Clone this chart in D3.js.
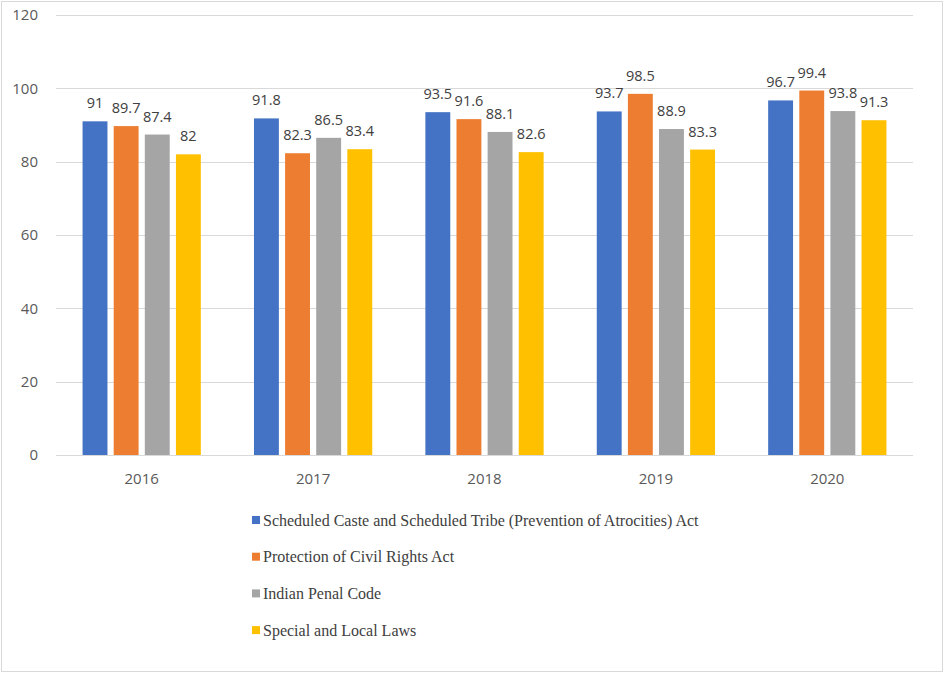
<!DOCTYPE html>
<html>
<head>
<meta charset="utf-8">
<script src="https://cdn.jsdelivr.net/npm/d3@7"></script>
<style>
  body { margin: 0; background: #fff; }
  svg { display: block; }
</style>
</head>
<body>
<svg id="chart"></svg>
<script>
// data
var years = ["2016", "2017", "2018", "2019", "2020"];
var seriesNames = [
  "Scheduled Caste and Scheduled Tribe (Prevention of Atrocities) Act",
  "Protection of Civil Rights Act",
  "Indian Penal Code",
  "Special and Local Laws"
];
var scstValues = [91, 91.8, 93.5, 93.7, 96.7];
var pcrValues = [89.7, 82.3, 91.6, 98.5, 99.4];
var ipcValues = [87.4, 86.5, 88.1, 88.9, 93.8];
var sllValues = [82, 83.4, 82.6, 83.3, 91.3];
var yTicks = [0, 20, 40, 60, 80, 100, 120];
var colors = ["#4472C4", "#ED7D31", "#A5A5A5", "#FFC000"];

var allValues = [scstValues, pcrValues, ipcValues, sllValues];

var W = 944, H = 674;
var margin = {top: 15, right: 31, bottom: 219, left: 56};
var width = W - margin.left - margin.right;
var height = H - margin.top - margin.bottom;

var svg = d3.select("#chart").attr("width", W).attr("height", H);

// outer border
svg.append("rect")
    .attr("x", 1.5).attr("y", 1.5)
    .attr("width", W - 3).attr("height", H - 4)
    .attr("fill", "#fff")
    .attr("stroke", "#d9d9d9")
    .attr("stroke-width", 1);

var g = svg.append("g")
    .attr("transform", "translate(" + margin.left + "," + margin.top + ")");

var x0 = d3.scaleBand().domain(years).range([0, width])
    .paddingInner(0.31).paddingOuter(0.155);
var x1 = d3.scaleBand().domain(d3.range(seriesNames.length))
    .range([0, x0.bandwidth()]).paddingInner(0.2);
var y = d3.scaleLinear().domain([0, 120]).range([height, 0]);

// gridlines
g.selectAll(".grid").data(yTicks).enter().append("line")
    .attr("x1", 0).attr("x2", width)
    .attr("y1", function(d) { return Math.round(y(d)) + 0.5; })
    .attr("y2", function(d) { return Math.round(y(d)) + 0.5; })
    .attr("stroke", "#d9d9d9")
    .attr("stroke-width", 1);

// y axis labels
g.selectAll(".ytick").data(yTicks).enter().append("text")
    .attr("x", -18)
    .attr("y", function(d) { return y(d); })
    .attr("dy", "0.35em")
    .attr("text-anchor", "end")
    .attr("font-family", "'Open Sans', sans-serif")
    .attr("font-size", 15)
    .attr("fill", "#595959")
    .text(function(d) { return d; });

// x axis labels
g.selectAll(".xtick").data(years).enter().append("text")
    .attr("x", function(d) { return x0(d) + x0.bandwidth() / 2; })
    .attr("y", height + 24)
    .attr("dy", "0.35em")
    .attr("text-anchor", "middle")
    .attr("font-family", "'Open Sans', sans-serif")
    .attr("font-size", 15)
    .attr("fill", "#595959")
    .text(function(d) { return d; });

// bars
var groups = g.selectAll(".year").data(years).enter().append("g")
    .attr("transform", function(d) { return "translate(" + x0(d) + ",0)"; });

groups.each(function(yr, yi) {
  var grp = d3.select(this);
  allValues.forEach(function(vals, si) {
    grp.append("rect")
        .attr("x", x1(si))
        .attr("y", y(vals[yi]))
        .attr("width", x1.bandwidth())
        .attr("height", height - y(vals[yi]))
        .attr("fill", colors[si]);
    grp.append("text")
        .attr("x", x1(si) + x1.bandwidth() / 2)
        .attr("y", y(vals[yi]) - 13)
        .attr("text-anchor", "middle")
        .attr("font-family", "'Open Sans', sans-serif")
        .attr("font-size", 14.5)
        .attr("fill", "#404040")
        .text(vals[yi]);
  });
});

// legend
var legend = svg.append("g").attr("transform", "translate(252,520)");
seriesNames.forEach(function(name, i) {
  var row = legend.append("g").attr("transform", "translate(0," + (i * 36.7) + ")");
  row.append("rect")
      .attr("x", 0).attr("y", -4)
      .attr("width", 8).attr("height", 8)
      .attr("fill", colors[i]);
  row.append("text")
      .attr("x", 11).attr("y", 0)
      .attr("dy", "0.35em")
      .attr("font-family", "'Liberation Serif', serif")
      .attr("font-size", 16)
      .attr("fill", "#404040")
      .text(name);
});
</script>
</body>
</html>
